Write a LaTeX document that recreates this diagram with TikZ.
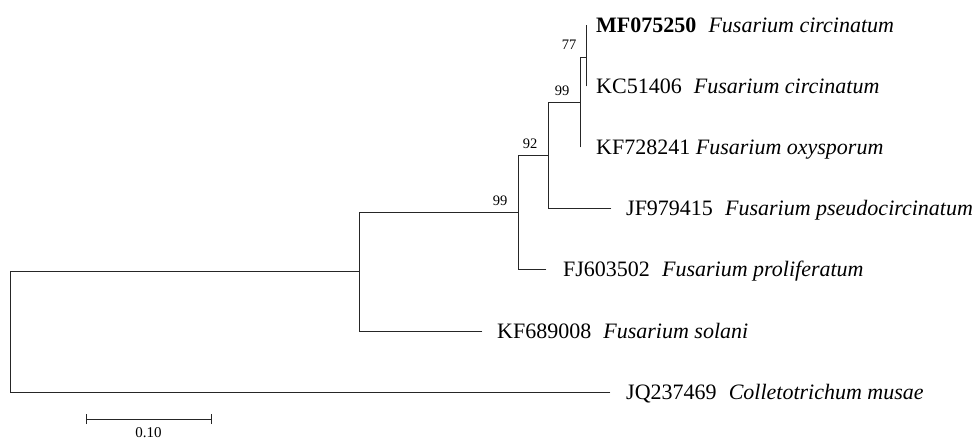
\documentclass[tikz,border=0pt]{standalone}
\usepackage{fontspec}
\setmainfont{Liberation Serif}
\newcommand{\gapsp}{\hspace{0.3em}}
\begin{document}
\begin{tikzpicture}[x=1pt,y=-1pt,
  branch/.style={draw=black!85, line width=0.9pt, line cap=rect},
  leaflabel/.style={anchor=base west, inner sep=0pt, font=\fontsize{22}{25}\selectfont},
  boot/.style={inner sep=0pt, font=\fontsize{14.5}{16}\selectfont},
  scalelbl/.style={anchor=base, inner sep=0pt, font=\fontsize{15}{17}\selectfont}]
\useasboundingbox (0,0) rectangle (975,439);
% internal nodes
\coordinate (root) at (10,331.5);
\coordinate (n1) at (359,271.5);
\coordinate (n2) at (518,212);
\coordinate (n3) at (548,155);
\coordinate (n4) at (580,102);
\coordinate (n5) at (586,57);
% leaf tips
\coordinate (tMF) at (586,25);
\coordinate (tKC) at (586,86);
\coordinate (tKF7) at (580,147);
\coordinate (tJF) at (611,208);
\coordinate (tFJ) at (546,269);
\coordinate (tKF6) at (482,331);
\coordinate (tJQ) at (610,392);
% branches
\draw[branch] (tMF) -- (tKC);
\draw[branch] (n4 |- n5) -- (n5);
\draw[branch] (n4 |- n5) -- (tKF7);
\draw[branch] (n3 |- n4) -- (n4);
\draw[branch] (n3 |- n4) -- (n3 |- tJF) -- (tJF);
\draw[branch] (n2 |- n3) -- (n3);
\draw[branch] (n2 |- n3) -- (n2 |- tFJ) -- (tFJ);
\draw[branch] (n1 |- n2) -- (n2);
\draw[branch] (n1 |- n2) -- (n1 |- tKF6) -- (tKF6);
\draw[branch] (root |- n1) -- (n1);
\draw[branch] (root |- n1) -- (root |- tJQ) -- (tJQ);
% leaf labels
\node[leaflabel] (lMF) at ([shift={(10,7.5)}]tMF) {\textbf{MF075250}\gapsp{} \textit{Fusarium circinatum}};
\node[leaflabel] (lKC) at ([shift={(10,7.5)}]tKC) {KC51406\gapsp{} \textit{Fusarium circinatum}};
\node[leaflabel] (lKF7) at ([shift={(16,7.5)}]tKF7) {KF728241 \textit{Fusarium oxysporum}};
\node[leaflabel] (lJF) at ([shift={(15,7.5)}]tJF) {JF979415\gapsp{} \textit{Fusarium pseudocircinatum}};
\node[leaflabel] (lFJ) at ([shift={(17,7.5)}]tFJ) {FJ603502\gapsp{} \textit{Fusarium proliferatum}};
\node[leaflabel] (lKF6) at ([shift={(15,7.5)}]tKF6) {KF689008\gapsp{} \textit{Fusarium solani}};
\node[leaflabel] (lJQ) at ([shift={(16,7.5)}]tJQ) {JQ237469\gapsp{} \textit{Colletotrichum musae}};
% bootstrap values
\node[boot] (b77) at (569,45) {77};
\node[boot] (b99a) at (562,91) {99};
\node[boot] (b92) at (530,144) {92};
\node[boot] (b99b) at (500,201) {99};
% scale bar
\coordinate (sL) at (86,419);
\coordinate (sR) at (211,419);
\draw[branch, line cap=butt] (sL) -- (sR);
\draw[branch, line cap=butt] ([yshift=-5]sL) -- ([yshift=5]sL);
\draw[branch, line cap=butt] ([yshift=-5]sR) -- ([yshift=5]sR);
\node[scalelbl] (sc) at (148.5,437.5) {0.10};
\end{tikzpicture}
\end{document}
